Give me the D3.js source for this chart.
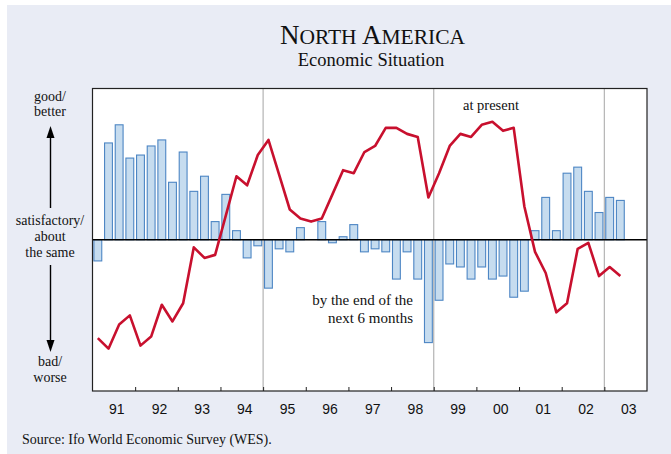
<!DOCTYPE html>
<html>
<head>
<meta charset="utf-8">
<script src="https://cdn.jsdelivr.net/npm/d3@7"></script>
<style>
  html, body { margin: 0; padding: 0; background: #ffffff; }
  svg { display: block; }
</style>
</head>
<body>
<svg id="chart" width="671" height="454"></svg>
<script>
// ---- data ----
const years = ["91","92","93","94","95","96","97","98","99","00","01","02","03"];
const quarterNames = ["Q1","Q2","Q3","Q4"];
// expectations: by the end of the next 6 months (bars), balance
const expectations = [
  -14, 64, 76, 54, 56, 62, 66, 38, 58, 32, 42, 12, 30, 6, -12, -4,
  -32, -6, -8, 8, 0, 12, -2, 2, 10, -8, -6, -8, -26, -8, -26, -68,
  -40, -16, -18, -26, -18, -26, -24, -38, -34, 6, 28, 6, 44, 48, 32, 18,
  28, 26
];
// present situation (line)
const present = [
  -65, -72, -56, -50, -70, -64, -43, -54, -42, -5, -12, -10, 16, 42, 36, 56,
  66, 43, 20, 14, 12, 14, 30, 46, 44, 58, 62, 74, 74, 70, 68, 28,
  44, 62, 70, 68, 76, 78, 72, 74, 22, -8, -22, -48, -42, -6, -2, -24,
  -18, -24
];
const gridYears = ["95","99","03"];
const yDomain = [-100, 100];

// ---- layout ----
const W = 671, H = 454;
const L = 92.5, R = 647, T = 88.5, B = 391;
const svg = d3.select("#chart");

svg.append("rect").attr("x", 7).attr("y", 5).attr("width", W - 7).attr("height", H - 5)
  .attr("fill", "#E9ECF5");

const quarters = years.flatMap(y => quarterNames.map(q => y + q));
const xq = d3.scaleBand().domain(quarters).range([L, R]).paddingInner(0.17).paddingOuter(0.085);
const xy = d3.scaleBand().domain(years).range([L, R]);
const y = d3.scaleLinear().domain(yDomain).range([B, T]);

// plot background
svg.append("rect").attr("x", L).attr("y", T).attr("width", R - L).attr("height", B - T)
  .attr("fill", "#ffffff");

// vertical grid lines
svg.append("g").selectAll("line").data(gridYears).join("line")
  .attr("x1", d => xy(d)).attr("x2", d => xy(d))
  .attr("y1", T).attr("y2", B)
  .attr("stroke", "#b4b4b4").attr("stroke-width", 1.2);

// bars
const barData = expectations.map((v, i) => ({q: quarters[i], v}));
svg.append("g").selectAll("rect").data(barData).join("rect")
  .attr("x", d => xq(d.q) + 0.5)
  .attr("width", xq.bandwidth() - 1)
  .attr("y", d => Math.min(y(d.v), y(0)))
  .attr("height", d => Math.abs(y(d.v) - y(0)))
  .attr("fill", "#C6DCEF")
  .attr("stroke", "#4D86C4")
  .attr("stroke-width", 1.1);

// zero line
svg.append("line").attr("x1", L).attr("x2", R).attr("y1", y(0)).attr("y2", y(0))
  .attr("stroke", "#000").attr("stroke-width", 1.4);

// line
const lineData = present.map((v, i) => ({q: quarters[i], v}));
svg.append("path").datum(lineData)
  .attr("fill", "none").attr("stroke", "#C8102E").attr("stroke-width", 2.6)
  .attr("stroke-linejoin", "round")
  .attr("d", d3.line().x(d => xq(d.q) + xq.bandwidth() / 2).y(d => y(d.v)));

// frame
svg.append("rect").attr("x", L).attr("y", T).attr("width", R - L).attr("height", B - T)
  .attr("fill", "none").attr("stroke", "#222").attr("stroke-width", 1.2);

// ticks at year boundaries
const xt = d3.scaleLinear().domain([0, years.length]).range([L, R]);
const tickAxis = d3.axisBottom(xt).tickValues(d3.range(1, years.length)).tickSize(-4).tickFormat("");
const gt = svg.append("g").attr("transform", `translate(0,${B})`).call(tickAxis);
gt.select(".domain").remove();
gt.selectAll("line").attr("stroke", "#222").attr("stroke-width", 1);

// year labels
const labAxis = d3.axisBottom(xy).tickSize(0).tickPadding(13);
const gl = svg.append("g").attr("transform", `translate(3,${B})`).call(labAxis);
gl.select(".domain").remove();
gl.selectAll("text").attr("font-family", "Liberation Sans, Arial, sans-serif")
  .attr("font-size", 14).attr("fill", "#111");

// title
const serif = "Liberation Serif, Times New Roman, serif";
const title = svg.append("text").attr("x", 372.5).attr("y", 44)
  .attr("text-anchor", "middle").attr("font-family", serif)
  .attr("fill", "#111");
title.append("tspan").attr("font-size", 27).text("N");
title.append("tspan").attr("font-size", 21.5).text("ORTH ");
title.append("tspan").attr("font-size", 27).text("A");
title.append("tspan").attr("font-size", 21.5).text("MERICA");

svg.append("text").attr("x", 371).attr("y", 66).attr("text-anchor", "middle")
  .attr("font-family", serif).attr("font-size", 18.5)
  .attr("fill", "#111").text("Economic Situation");

// left annotations
const leftLabels = [
  {t: "good/", y: 101}, {t: "better", y: 116},
  {t: "satisfactory/", y: 225}, {t: "about", y: 241}, {t: "the same", y: 257},
  {t: "bad/", y: 366}, {t: "worse", y: 382}
];
svg.append("g").selectAll("text").data(leftLabels).join("text")
  .attr("x", 50).attr("y", d => d.y).attr("text-anchor", "middle")
  .attr("font-family", serif).attr("font-size", 14).attr("fill", "#111")
  .text(d => d.t);

// arrows
svg.append("line").attr("x1", 50.5).attr("x2", 50.5).attr("y1", 208).attr("y2", 136)
  .attr("stroke", "#000").attr("stroke-width", 1.4);
svg.append("path").attr("d", "M50.5,126 L46.5,138 L54.5,138 Z").attr("fill", "#000");
svg.append("line").attr("x1", 50.5).attr("x2", 50.5).attr("y1", 265).attr("y2", 342)
  .attr("stroke", "#000").attr("stroke-width", 1.4);
svg.append("path").attr("d", "M50.5,352 L46.5,340 L54.5,340 Z").attr("fill", "#000");

// series annotations
svg.append("text").attr("x", 491).attr("y", 110).attr("text-anchor", "middle")
  .attr("font-family", serif).attr("font-size", 14.5).attr("fill", "#111").text("at present");
svg.append("text").attr("x", 413).attr("y", 305).attr("text-anchor", "end")
  .attr("font-family", serif).attr("font-size", 15).attr("fill", "#111").text("by the end of the");
svg.append("text").attr("x", 413).attr("y", 323).attr("text-anchor", "end")
  .attr("font-family", serif).attr("font-size", 15).attr("fill", "#111").text("next 6 months");

// source
svg.append("text").attr("x", 22).attr("y", 444)
  .attr("font-family", serif).attr("font-size", 14).attr("fill", "#111")
  .text("Source: Ifo World Economic Survey (WES).");
</script>
</body>
</html>
